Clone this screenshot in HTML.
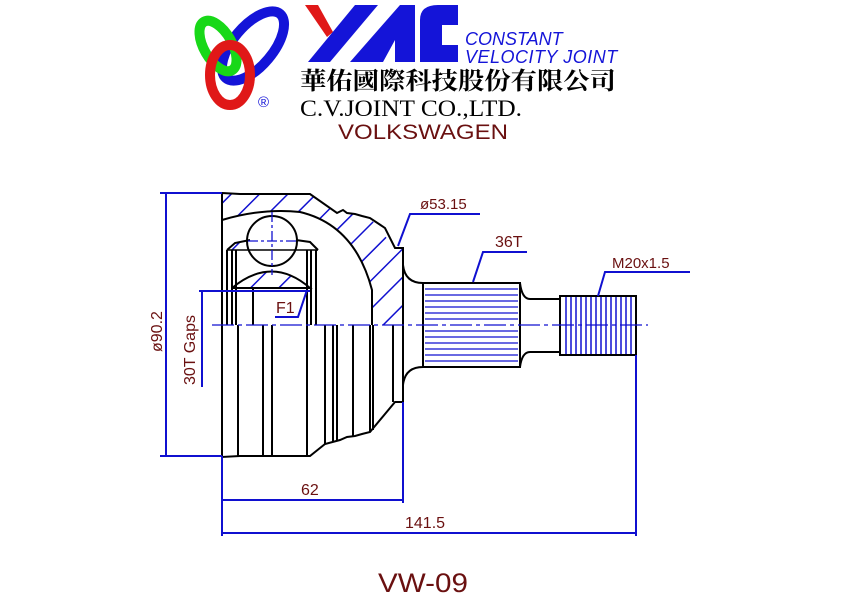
<!DOCTYPE html>
<html><head><meta charset="utf-8"><style>
html,body{margin:0;padding:0;background:#fff;}
svg{display:block;}
</style></head><body>
<svg width="842" height="596" viewBox="0 0 842 596" xmlns="http://www.w3.org/2000/svg">
<defs>
<pattern id="h" patternUnits="userSpaceOnUse" width="20" height="20" patternTransform="rotate(45)">
<line x1="0" y1="0" x2="0" y2="20" stroke="#1010d0" stroke-width="3"/>
</pattern>
</defs>
<!-- Logo rings -->
<ellipse cx="253" cy="46" rx="20" ry="42" transform="rotate(40 253 46)" fill="none" stroke="#1414d8" stroke-width="10"/>
<ellipse cx="218" cy="46" rx="14" ry="28" transform="rotate(-30 218 46)" fill="none" stroke="#18d818" stroke-width="10"/>
<ellipse cx="230" cy="75" rx="20" ry="30" fill="none" stroke="#e01818" stroke-width="10"/>
<text x="258" y="107" font-family="Liberation Sans, sans-serif" font-size="15" fill="#1414d8">®</text>
<!-- YAC -->
<polygon points="305,5 318,5 333,32 327,37" fill="#e01818"/>
<polygon points="308,62 355,5 378,5 330,62" fill="#1414d8"/>
<polygon points="350,62 400,5 415,5 415,62 395,62 395,40 383,62" fill="#1414d8"/>
<path d="M420,62 L420,20 Q420,5 438,5 L458,5 L458,25 L442,25 L442,45 L458,45 L458,62 Z" fill="#1414d8"/>
<text x="465" y="45" font-family="Liberation Sans, sans-serif" font-style="italic" font-size="18" fill="#1414d8">CONSTANT</text>
<text x="465" y="63" font-family="Liberation Sans, sans-serif" font-style="italic" font-size="18" fill="#1414d8" letter-spacing="0.5">VELOCITY  JOINT</text>
<text x="300" y="89" font-family="Noto Serif CJK SC, serif" font-weight="bold" font-size="24" fill="#000" textLength="316" lengthAdjust="spacingAndGlyphs">華佑國際科技股份有限公司</text>
<text x="300" y="116" font-family="Liberation Serif, serif" font-size="23" fill="#000" textLength="222" lengthAdjust="spacingAndGlyphs">C.V.JOINT CO.,LTD.</text>
<text x="338" y="139" font-family="Liberation Sans, sans-serif" font-size="21" fill="#6a1010" textLength="170" lengthAdjust="spacingAndGlyphs">VOLKSWAGEN</text>

<!-- hatched regions -->
<path d="M222,220 Q262,208 300,212 Q355,225 372,290 L372,325 L403,325 L403,248 L395,248 L370,218 L347,213 L337,213 L310,194 L240,194 L222,193 Z" fill="url(#h)"/>
<path d="M232,288 Q272,255 310,288 Z" fill="url(#h)"/>
<path d="M227,250 L235,243 L250,240 L245,250 Z" fill="url(#h)"/>
<path d="M296,240 L310,242 L318,250 L305,250 Z" fill="url(#h)"/>

<g fill="none" stroke="#000" stroke-width="2">
<path d="M222,193 L240,194 L310,194 L337,213 L343,210 L347,213 L355,214 L362,216 L370,218 L385,228 L395,248 L403,248 L403,402 L395,402 L370,432 L362,434 L355,436 L347,437 L340,440 L325,444 L310,456 L240,456 L222,457 Z"/>
<path d="M222,220 Q262,208 300,212 Q355,225 372,290 L372,325"/>
<path d="M232,288 Q272,255 310,288 L232,288"/>
<circle cx="272" cy="241" r="25" fill="#fff"/>
<path d="M227,250 L235,243 L250,240"/>
<path d="M296,240 L310,242 L318,250"/>
<path d="M227,250 L318,250" stroke-width="1.5"/>
<line x1="227" y1="250" x2="227" y2="325"/><line x1="232" y1="250" x2="232" y2="325"/><line x1="236" y1="250" x2="236" y2="325"/>
<line x1="307" y1="250" x2="307" y2="325"/><line x1="311" y1="250" x2="311" y2="325"/><line x1="316" y1="250" x2="316" y2="325"/>
<line x1="253" y1="288" x2="253" y2="325"/>
<line x1="238" y1="325" x2="238" y2="456"/><line x1="263" y1="325" x2="263" y2="456"/><line x1="272" y1="325" x2="272" y2="456"/>
<line x1="307" y1="325" x2="307" y2="456"/><line x1="325" y1="325" x2="325" y2="444"/><line x1="333" y1="325" x2="333" y2="442"/>
<line x1="337" y1="325" x2="337" y2="441"/><line x1="353" y1="325" x2="353" y2="436"/><line x1="370" y1="325" x2="370" y2="432"/>
<line x1="373" y1="325" x2="373" y2="430"/><line x1="393" y1="325" x2="393" y2="402"/>
<path d="M403,265 Q405,283 423,283 L423,367 Q405,367 403,385"/>
<rect x="423" y="283" width="97" height="84"/>
<path d="M520,283 Q522,299 530,299 L560,299 L560,352 L530,352 Q522,352 520,367"/>
<rect x="560" y="296" width="76" height="59"/>
</g>
<g stroke="#1010d0" stroke-width="1.3">
<line x1="425" y1="289" x2="518" y2="289"/><line x1="425" y1="295" x2="518" y2="295"/><line x1="425" y1="301" x2="518" y2="301"/>
<line x1="425" y1="307" x2="518" y2="307"/><line x1="425" y1="313" x2="518" y2="313"/><line x1="425" y1="319" x2="518" y2="319"/>
<line x1="425" y1="331" x2="518" y2="331"/><line x1="425" y1="337" x2="518" y2="337"/><line x1="425" y1="343" x2="518" y2="343"/>
<line x1="425" y1="349" x2="518" y2="349"/><line x1="425" y1="355" x2="518" y2="355"/><line x1="425" y1="361" x2="518" y2="361"/>
</g>
<g stroke="#1010d0" stroke-width="1.5">
<line x1="566" y1="297" x2="566" y2="354"/><line x1="571" y1="297" x2="571" y2="354"/><line x1="576" y1="297" x2="576" y2="354"/>
<line x1="581" y1="297" x2="581" y2="354"/><line x1="586" y1="297" x2="586" y2="354"/><line x1="591" y1="297" x2="591" y2="354"/>
<line x1="596" y1="297" x2="596" y2="354"/><line x1="601" y1="297" x2="601" y2="354"/><line x1="606" y1="297" x2="606" y2="354"/>
<line x1="611" y1="297" x2="611" y2="354"/><line x1="616" y1="297" x2="616" y2="354"/><line x1="621" y1="297" x2="621" y2="354"/>
<line x1="626" y1="297" x2="626" y2="354"/><line x1="631" y1="297" x2="631" y2="354"/>
</g>
<g stroke="#1010d0" stroke-width="1.3" fill="none">
<line x1="212" y1="325" x2="648" y2="325" stroke-dasharray="22,4,4,4"/>
<line x1="248" y1="241" x2="296" y2="241" stroke-dasharray="10,3,3,3"/>
<line x1="272" y1="212" x2="272" y2="275" stroke-dasharray="10,3,3,3"/>
</g>
<g stroke="#1010d0" stroke-width="2" fill="none">
<line x1="166" y1="193" x2="166" y2="456"/>
<line x1="160" y1="193" x2="222" y2="193"/><line x1="160" y1="456" x2="222" y2="456"/>
<line x1="202" y1="291" x2="202" y2="387"/>
<line x1="199" y1="291" x2="310" y2="291"/>
<line x1="222" y1="456" x2="222" y2="536"/>
<line x1="403" y1="402" x2="403" y2="503"/>
<line x1="636" y1="355" x2="636" y2="536"/>
<line x1="222" y1="500" x2="403" y2="500"/>
<line x1="222" y1="533" x2="636" y2="533"/>
<polyline points="275,317 298,317 307,290"/>
<polyline points="398,246 410,214 480,214"/>
<polyline points="473,282 483,252 527,252"/>
<polyline points="598,296 605,272 690,272"/>
</g>
<g font-family="Liberation Sans, sans-serif" fill="#6a1010">
<text x="276" y="313" font-size="16">F1</text>
<text x="420" y="209" font-size="15">ø53.15</text>
<text x="495" y="247" font-size="16">36T</text>
<text x="612" y="268" font-size="15">M20x1.5</text>
<text x="301" y="495" font-size="16">62</text>
<text x="405" y="528" font-size="16">141.5</text>
<text transform="translate(162,352) rotate(-90)" font-size="16">ø90.2</text>
<text transform="translate(195,385) rotate(-90)" font-size="16">30T Gaps</text>
<text x="378" y="592" font-size="27" textLength="90" lengthAdjust="spacingAndGlyphs">VW-09</text>
</g>
</svg>
</body></html>
